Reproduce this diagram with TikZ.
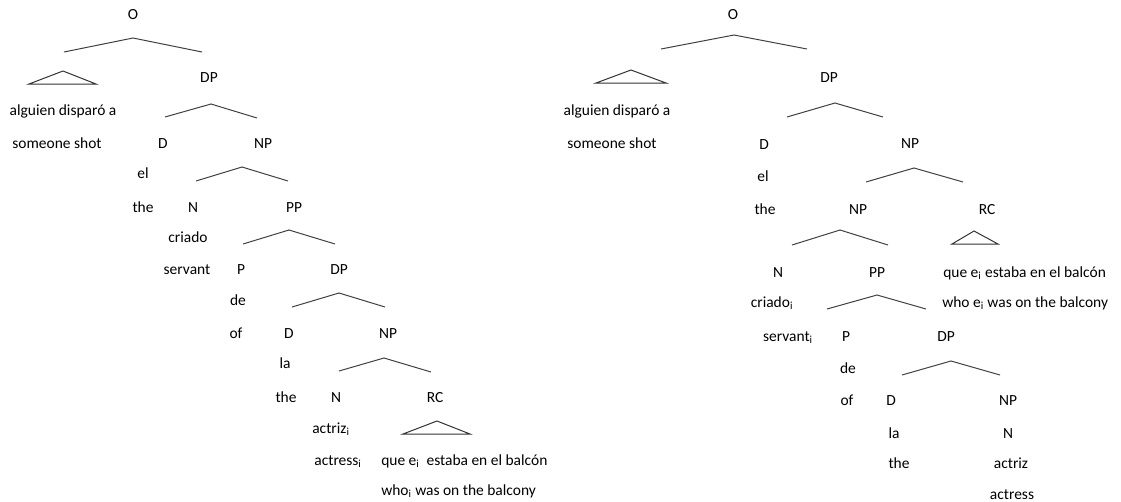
\documentclass[tikz,border=0pt]{standalone}
\usepackage{fontspec}
\setmainfont{Carlito}
\begin{document}
\begin{tikzpicture}[x=0.75pt,y=-0.75pt,
  lbl/.style={anchor=base,inner sep=0pt,font=\fontsize{11.6}{13}\selectfont},
  lblw/.style={lbl,anchor=base west},
  branch/.style={draw=black!75,line width=0.75pt},
  tri/.style={draw=black!80,line width=0.75pt}]
\useasboundingbox (0,0) rectangle (1121,501);
% ---------------- left tree ----------------
\node[lbl] (lO) at (133,19) {O};
\draw[branch] (64,52) -- (133,38) -- (202,52);
\draw[tri] (29,84) -- (63,71) -- (96,84) -- cycle;
\node[lbl] (lDP1) at (209,82) {DP};
\node[lbl] (lalg) at (63,115) {alguien disparó a};
\node[lbl] (lsome) at (57,148) {someone shot};
\draw[branch] (165,117) -- (211,104) -- (257,118);
\node[lbl] (lD1) at (163,148) {D};
\node[lbl] (lNP1) at (263,148) {NP};
\node[lbl] (lel) at (143,178) {el};
\draw[branch] (196,181) -- (242,167) -- (288,181);
\node[lbl] (lthe1) at (143,212) {the};
\node[lbl] (lN1) at (193,212) {N};
\node[lbl] (lPP) at (294,212) {PP};
\node[lbl] (lcriado) at (188,242) {criado};
\draw[branch] (243,244) -- (289,230) -- (335,244);
\node[lbl] (lservant) at (187,274) {servant};
\node[lbl] (lP) at (241,274) {P};
\node[lbl] (lDP2) at (339,274) {DP};
\node[lbl] (lde) at (238,305) {de};
\draw[branch] (292,307) -- (339,293) -- (385,307);
\node[lbl] (lof) at (236,338) {of};
\node[lbl] (lD2) at (289,338) {D};
\node[lbl] (lNP2) at (388,338) {NP};
\node[lbl] (lla) at (285,368) {la};
\draw[branch] (339,371) -- (384,358) -- (431,372);
\node[lbl] (lthe2) at (286,402) {the};
\node[lbl] (lN2) at (336,402) {N};
\node[lbl] (lRC) at (435,402) {RC};
\node[lbl] (lactriz) at (331,433) {actriz\textsubscript{i}};
\draw[tri] (403,434) -- (437,421) -- (470,434) -- cycle;
\node[lbl] (lactress) at (338,465) {actress\textsubscript{i}};
\node[lblw] (lque) at (381,465) {que e\textsubscript{i}\ \ estaba en el balcón};
\node[lblw] (lwho) at (381,495) {who\textsubscript{i} was on the balcony};
% ---------------- right tree ----------------
\node[lbl] (rO) at (733,19) {O};
\draw[branch] (661,49) -- (734,35) -- (807,49);
\draw[tri] (596,83) -- (631,70) -- (666,83) -- cycle;
\node[lbl] (rDP1) at (829,82) {DP};
\draw[branch] (787,117) -- (835,103) -- (883,117);
\node[lbl] (ralg) at (617,115) {alguien disparó a};
\node[lbl] (rsome) at (612,148) {someone shot};
\node[lbl] (rD1) at (764,149) {D};
\node[lbl] (rNP1) at (910,148) {NP};
\node[lbl] (rel) at (763,181) {el};
\draw[branch] (866,182) -- (914,168) -- (963,182);
\node[lbl] (rthe1) at (765,214) {the};
\node[lbl] (rNP2) at (858,214) {NP};
\node[lbl] (rRC) at (987,214) {RC};
\draw[branch] (792,245) -- (840,230) -- (888,245);
\draw[tri] (952,244) -- (974,231) -- (998,244) -- cycle;
\node[lbl] (rN1) at (778,277) {N};
\node[lbl] (rPP) at (877,277) {PP};
\node[lblw] (rque) at (943,277) {que e\textsubscript{i} estaba en el balcón};
\node[lbl] (rcriado) at (772,307) {criado\textsubscript{i}};
\node[lblw] (rwho) at (942,307) {who e\textsubscript{i} was on the balcony};
\draw[branch] (827,309) -- (877,295) -- (926,309);
\node[lbl] (rservant) at (788,341) {servant\textsubscript{i}};
\node[lbl] (rP) at (846,341) {P};
\node[lbl] (rDP2) at (946,341) {DP};
\node[lbl] (rde) at (848,373) {de};
\draw[branch] (902,375) -- (951,361) -- (1000,375);
\node[lbl] (rof) at (847,405) {of};
\node[lbl] (rD2) at (891,405) {D};
\node[lbl] (rNP3) at (1008,405) {NP};
\node[lbl] (rla) at (894,438) {la};
\node[lbl] (rN2) at (1008,438) {N};
\node[lbl] (rthe2) at (899,468) {the};
\node[lbl] (ractriz) at (1011,468) {actriz};
\node[lbl] (ractress) at (1012,499) {actress};
\end{tikzpicture}
\end{document}
